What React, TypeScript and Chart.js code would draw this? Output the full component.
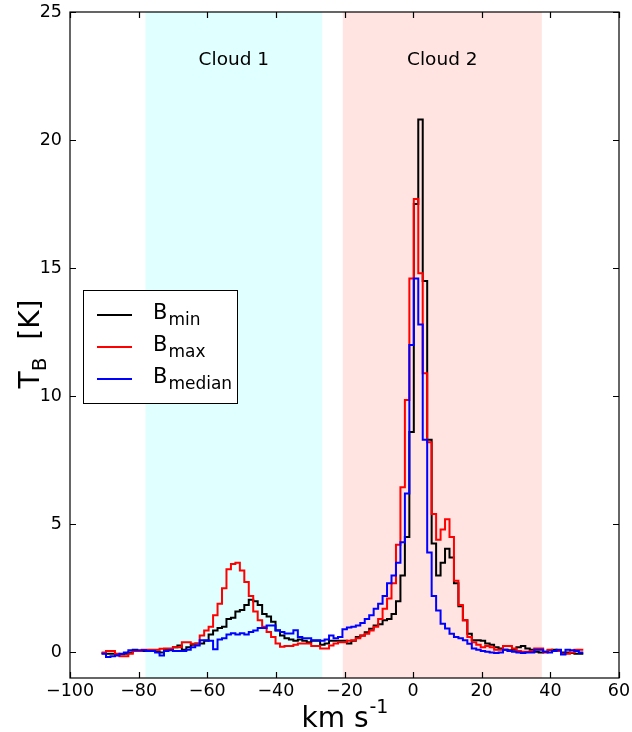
import React, { useEffect, useRef } from "react";
import { Chart, registerables } from "chart.js";

Chart.register(...registerables);

// Velocity channel grid (km/s): left edge of the first channel and channel width
const vStart = -90.8;
const chanWidth = 1.3;

// Brightness temperature per channel (K)
const bMin = [
  -0.03, -0.05, -0.05, -0.07, -0.07, -0.05, 0.0, 0.1, 0.05, 0.05,
  0.05, 0.05, 0.03, 0.0, 0.1, 0.1, 0.2, 0.27, 0.1, 0.2,
  0.3, 0.35, 0.35, 0.45, 0.7, 0.85, 0.95, 1.0, 1.3, 1.35,
  1.6, 1.65, 1.85, 2.05, 2.0, 1.85, 1.5, 1.4, 1.2, 0.85,
  0.66, 0.55, 0.5, 0.45, 0.5, 0.45, 0.4, 0.45, 0.45, 0.3,
  0.35, 0.45, 0.45, 0.45, 0.45, 0.35, 0.45, 0.6, 0.66, 0.79,
  0.92, 1.05, 1.1, 1.25, 1.3, 1.5, 2.0, 3.0, 4.5, 8.6,
  17.5, 20.8, 14.5, 8.3, 4.25, 3.0, 3.5, 4.05, 3.7, 2.7,
  1.8, 1.25, 0.73, 0.47, 0.47, 0.45, 0.35, 0.3, 0.2, 0.15,
  0.1, 0.08, 0.1, 0.2, 0.25, 0.15, 0.1, 0.02, 0.0, 0.02,
  0.08, 0.1, 0.05, 0.0, 0.0, -0.02, -0.05, -0.05,
];

const bMax = [
  0.0, 0.05, 0.05, -0.05, -0.15, -0.15, -0.05, 0.05, 0.05, 0.1,
  0.1, 0.1, 0.1, 0.14, 0.15, 0.15, 0.2, 0.2, 0.4, 0.4,
  0.34, 0.34, 0.66, 0.85, 1.0, 1.45, 1.9, 2.5, 3.25, 3.45,
  3.5, 3.2, 2.75, 2.2, 1.6, 1.25, 1.0, 0.8, 0.6, 0.35,
  0.22, 0.25, 0.25, 0.3, 0.35, 0.35, 0.35, 0.25, 0.25, 0.15,
  0.15, 0.27, 0.35, 0.4, 0.4, 0.45, 0.47, 0.55, 0.65, 0.73,
  0.85, 1.0, 1.3, 1.7, 2.1, 2.7, 4.2, 6.45, 9.85, 14.6,
  17.7, 14.8, 10.9, 8.2, 5.4, 4.4, 4.8, 5.2, 4.5, 2.8,
  1.85, 1.25, 0.6, 0.4, 0.3, 0.2, 0.25, 0.2, 0.1, 0.1,
  0.25, 0.25, 0.15, 0.05, 0.02, 0.02, 0.05, 0.15, 0.15, 0.0,
  0.1, 0.05, 0.05, -0.05, -0.05, 0.0, 0.1, 0.1,
];

const bMedian = [
  -0.05, -0.18, -0.15, -0.12, -0.05, 0.0, 0.08, 0.08, 0.08, 0.08,
  0.05, 0.05, 0.0, -0.12, 0.05, 0.08, 0.05, 0.05, 0.05, 0.1,
  0.2, 0.27, 0.47, 0.47, 0.45, 0.12, 0.5, 0.55, 0.7, 0.75,
  0.7, 0.75, 0.7, 0.8, 0.85, 0.95, 0.95, 1.05, 1.05, 0.86,
  0.8, 0.74, 0.74, 0.86, 0.6, 0.55, 0.55, 0.47, 0.47, 0.45,
  0.5, 0.66, 0.55, 0.6, 0.9, 0.97, 1.0, 1.05, 1.15, 1.3,
  1.45, 1.7, 1.9, 2.2, 2.7, 3.0, 3.5, 4.3, 6.2, 12.0,
  14.6, 12.8, 8.3, 3.9, 2.2, 1.64, 1.12, 0.93, 0.73, 0.6,
  0.55, 0.47, 0.34, 0.15, 0.1, 0.05, 0.02, 0.0, -0.02, 0.0,
  0.1, 0.05, 0.02, 0.0, -0.02, 0.0, 0.0, 0.1, 0.1, 0.02,
  0.0, 0.05, 0.1, -0.08, 0.1, 0.08, 0.05, 0.0,
];

const xTicks = [-100, -80, -60, -40, -20, 0, 20, 40, 60];
const yTicks = [0, 5, 10, 15, 20, 25];

const cloudNames = ["Cloud 1", "Cloud 2"];
const cloudStarts = [-78, -20.5];
const cloudEnds = [-26.5, 37.5];

const seriesMain = ["B", "B", "B"];
const seriesSub = ["min", "max", "median"];

const FONT = '"DejaVu Sans", sans-serif';
const seriesColors = ["#000000", "#ff0000", "#0000ff"];
const cloudColors = ["#e0ffff", "#ffe4e1"];

const fmtTick = (v: number) => (v < 0 ? "\u2212" + Math.abs(v) : String(v));

const toPoints = (vals: number[]) => {
  const pts = vals.map((v, i) => ({ x: vStart + i * chanWidth, y: v }));
  pts.push({ x: vStart + vals.length * chanWidth, y: vals[vals.length - 1] });
  return pts;
};

const deco = {
  id: "deco",
  beforeDatasetsDraw(chart: any) {
    const { ctx, chartArea: a, scales } = chart;
    const x = scales.x;
    const y = scales.y;
    ctx.save();
    cloudStarts.forEach((s, k) => {
      const x0 = x.getPixelForValue(s);
      const x1 = x.getPixelForValue(cloudEnds[k]);
      ctx.fillStyle = cloudColors[k];
      ctx.fillRect(x0, a.top, x1 - x0, a.bottom - a.top);
      ctx.fillStyle = "#000";
      ctx.font = `18.5px ${FONT}`;
      ctx.textAlign = "center";
      ctx.textBaseline = "middle";
      ctx.fillText(cloudNames[k], (x0 + x1) / 2, y.getPixelForValue(23.1));
    });
    ctx.restore();
  },
  afterDraw(chart: any) {
    const { ctx, chartArea: a, scales } = chart;
    const x = scales.x;
    const y = scales.y;
    ctx.save();
    // frame
    ctx.strokeStyle = "#000";
    ctx.lineWidth = 1.2;
    ctx.strokeRect(a.left, a.top, a.right - a.left, a.bottom - a.top);
    // inward ticks on all sides
    const tl = 6;
    ctx.beginPath();
    xTicks.forEach((v) => {
      const px = Math.round(x.getPixelForValue(v)) + 0.5;
      ctx.moveTo(px, a.bottom);
      ctx.lineTo(px, a.bottom - tl);
      ctx.moveTo(px, a.top);
      ctx.lineTo(px, a.top + tl);
    });
    yTicks.forEach((v) => {
      const py = Math.round(y.getPixelForValue(v)) + 0.5;
      ctx.moveTo(a.left, py);
      ctx.lineTo(a.left + tl, py);
      ctx.moveTo(a.right, py);
      ctx.lineTo(a.right - tl, py);
    });
    ctx.stroke();

    // legend
    const lx = 83, ly = 290, lw = 154, lh = 113;
    ctx.fillStyle = "#fff";
    ctx.fillRect(lx, ly, lw, lh);
    ctx.lineWidth = 1;
    ctx.strokeStyle = "#000";
    ctx.strokeRect(lx + 0.5, ly + 0.5, lw, lh);
    const rows = [315, 347, 379];
    rows.forEach((ry, k) => {
      ctx.strokeStyle = seriesColors[k];
      ctx.lineWidth = 2;
      ctx.beginPath();
      ctx.moveTo(97, ry);
      ctx.lineTo(132, ry);
      ctx.stroke();
      ctx.fillStyle = "#000";
      ctx.textAlign = "left";
      ctx.textBaseline = "alphabetic";
      ctx.font = `21px ${FONT}`;
      ctx.fillText(seriesMain[k], 153, ry + 4);
      const bw = ctx.measureText(seriesMain[k]).width;
      ctx.font = `17px ${FONT}`;
      ctx.fillText(seriesSub[k], 153 + bw + 1, ry + 10);
    });

    // x title: km s^-1
    ctx.fillStyle = "#000";
    ctx.textBaseline = "alphabetic";
    ctx.textAlign = "left";
    ctx.font = `28px ${FONT}`;
    const main = "km s";
    const wMain = ctx.measureText(main).width;
    ctx.font = `19px ${FONT}`;
    const sup = "-1";
    const wSup = ctx.measureText(sup).width;
    const cx = (a.left + a.right) / 2;
    const startX = cx - (wMain + wSup) / 2;
    ctx.font = `28px ${FONT}`;
    ctx.fillText(main, startX, 727);
    ctx.font = `19px ${FONT}`;
    ctx.fillText(sup, startX + wMain + 1, 713);

    // y title: T_B [K]
    ctx.save();
    ctx.translate(39, 344);
    ctx.rotate(-Math.PI / 2);
    ctx.font = `28px ${FONT}`;
    const wT = ctx.measureText("T").width;
    const rest = "  [K]";
    const wRest = ctx.measureText(rest).width;
    ctx.font = `20px ${FONT}`;
    const wB = ctx.measureText("B").width;
    const total = wT + wB + wRest;
    let sx = -total / 2;
    ctx.font = `28px ${FONT}`;
    ctx.fillText("T", sx, 0);
    sx += wT;
    ctx.font = `20px ${FONT}`;
    ctx.fillText("B", sx, 7);
    sx += wB;
    ctx.font = `28px ${FONT}`;
    ctx.fillText(rest, sx, 0);
    ctx.restore();

    ctx.restore();
  },
};

export default function App() {
  const ref = useRef<HTMLCanvasElement | null>(null);
  useEffect(() => {
    if (!ref.current) return;
    const mk = (vals: number[], color: string, order: number, label: string) => ({
      label,
      data: toPoints(vals),
      borderColor: color,
      backgroundColor: color,
      borderWidth: 2,
      pointRadius: 0,
      stepped: true as any,
      fill: false,
      tension: 0,
      order,
    });
    const chart = new Chart(ref.current, {
      type: "line",
      data: {
        datasets: [
          mk(bMin, seriesColors[0], 3, "Bmin"),
          mk(bMax, seriesColors[1], 2, "Bmax"),
          mk(bMedian, seriesColors[2], 1, "Bmedian"),
        ],
      },
      options: {
        responsive: false,
        animation: false,
        events: [],
        layout: { padding: { left: 0, right: 13, top: 12, bottom: 0 } },
        plugins: { legend: { display: false }, tooltip: { enabled: false } },
        scales: {
          x: {
            type: "linear",
            min: -100,
            max: 60,
            grid: { display: false, drawTicks: false },
            border: { display: false },
            afterBuildTicks: (s: any) => {
              s.ticks = xTicks.map((v) => ({ value: v }));
            },
            afterFit: (s: any) => {
              s.height = 54;
              s.paddingLeft = 0;
              s.paddingRight = 0;
            },
            ticks: {
              color: "#000",
              font: { family: FONT, size: 17.5 },
              padding: 3,
              maxRotation: 0,
              autoSkip: false,
              callback: (v: any) => fmtTick(Number(v)),
            },
          },
          y: {
            type: "linear",
            min: -1,
            max: 25,
            grid: { display: false, drawTicks: false },
            border: { display: false },
            afterBuildTicks: (s: any) => {
              s.ticks = yTicks.map((v) => ({ value: v }));
            },
            afterFit: (s: any) => {
              s.width = 70;
              s.paddingTop = 0;
              s.paddingBottom = 0;
            },
            ticks: {
              color: "#000",
              font: { family: FONT, size: 17.5 },
              padding: 8,
              autoSkip: false,
              callback: (v: any) => fmtTick(Number(v)),
            },
          },
        },
      },
      plugins: [deco],
    });
    return () => chart.destroy();
  }, []);
  return (
    <div style={{ position: "fixed", left: 0, top: 0, width: 632, height: 732, background: "#fff" }}>
      <canvas ref={ref} width={632} height={732} style={{ display: "block" }} />
    </div>
  );
}
